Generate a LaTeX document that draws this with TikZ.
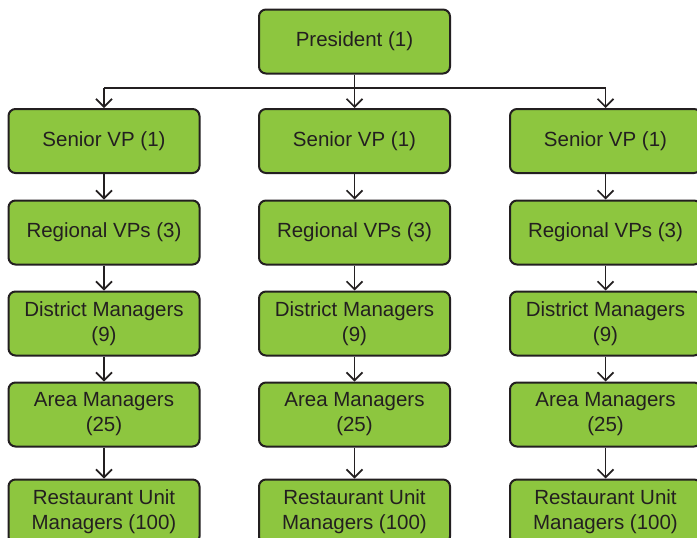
\documentclass[tikz,border=0pt]{standalone}
\usepackage{fontspec}
\setmainfont{Liberation Sans}
\usetikzlibrary{arrows.meta}
\definecolor{boxgreen}{HTML}{8DC63F}
\definecolor{ink}{HTML}{231F20}
\tikzset{
  orgbox/.style={draw=ink, line width=2pt, fill=boxgreen, rounded corners=7pt,
    minimum width=191pt, minimum height=64pt, inner sep=0pt, align=center,
    text=ink, font=\fontsize{20.5}{25}\selectfont},
  conn/.style={draw=ink, line width=1.7pt},
  arr/.style={conn, -{Straight Barb[length=8pt,width=16pt,line width=1.7pt]}}
}
\begin{document}
\begin{tikzpicture}[x=1pt,y=-1pt]
\fill[white] (0,0) rectangle (697,538);
\clip (0,0) rectangle (697,538);
\node[orgbox] (p) at (354.5,41.5) {President (1)};
\foreach \i/\x in {1/104, 2/354.5, 3/605.5}{
  \node[orgbox] (s\i) at (\x,141) {Senior VP (1)};
  \node[orgbox] (r\i) at (\x,232.5) {Regional VPs (3)};
  \node[orgbox] (d\i) at (\x,323.5) {District Managers\\(9)};
  \node[orgbox] (a\i) at (\x,414.5) {Area Managers\\(25)};
  \node[orgbox] (u\i) at (\x,511.5) {Restaurant Unit\\Managers (100)};
  \draw[arr] (s\i) -- (r\i);
  \draw[arr] (r\i) -- (d\i);
  \draw[arr] (d\i) -- (a\i);
  \draw[arr] (a\i) -- (u\i);
}
\coordinate (j) at (354.5,88);
\draw[conn] (p.south) -- (j);
\draw[conn] (s1.north|-j) -- (s3.north|-j);
\foreach \i in {1,2,3}{
  \draw[arr] (s\i.north|-j) -- (s\i.north);
}
\end{tikzpicture}
\end{document}
